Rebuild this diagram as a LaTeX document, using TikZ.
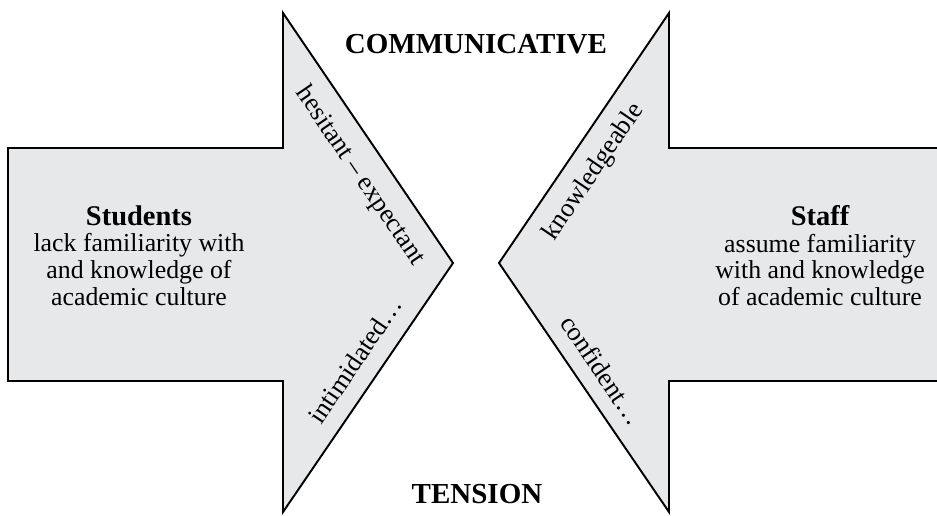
\documentclass[tikz,border=0pt]{standalone}
\usepackage{fontspec}
\setmainfont{Liberation Serif}
\usepackage{tkz-euclide}
\definecolor{arrowgray}{RGB}{231,232,234}
\tikzset{
  bigarrow/.style={draw=black,line width=1.1pt,fill=arrowgray,line join=miter},
  edgetext/.style={font=\fontsize{15}{17}\selectfont,inner sep=1pt},
  bodytext/.style={align=center,font=\fontsize{14.7}{15.2}\selectfont,inner sep=0pt},
  poletext/.style={font=\fontsize{16.5}{18}\selectfont\bfseries,inner sep=0pt}
}

\begin{document}
\begin{tikzpicture}
\tkzInit[xmin=0,xmax=18.74,ymin=0,ymax=10.3]
\tkzClip
% left arrow (students)
\tkzDefPoints{0.16/7.34/L1,5.66/7.34/L2,5.66/10.04/L3,9.06/5.04/L4,5.66/0.06/L5,5.66/2.68/L6,0.16/2.68/L7}
% right arrow (staff)
\tkzDefPoints{19.2/7.34/R1,13.38/7.34/R2,13.38/10.04/R3,9.98/5.04/R4,13.38/0.06/R5,13.38/2.68/R6,19.2/2.68/R7}
\draw[bigarrow](L1)--(L2)--(L3)--(L4)--(L5)--(L6)--(L7)--cycle;
\draw[bigarrow](R1)--(R2)--(R3)--(R4)--(R5)--(R6)--(R7)--cycle;
\node[bodytext] (stud) at (2.78,5.19)
  {{\fontsize{16.2}{17}\selectfont\bfseries Students}\\lack familiarity with\\and knowledge of\\academic culture};
\node[bodytext] (staff) at (16.4,5.19)
  {{\fontsize{16.2}{17}\selectfont\bfseries Staff}\\assume familiarity\\with and knowledge\\of academic culture};
\node[edgetext,rotate=-55.8] (hes) at (7.2,6.78) {hesitant -- expectant};
\node[edgetext,rotate=55.8] (intim) at (7.1,3.1) {intimidated…};
\node[edgetext,rotate=55.8] (know) at (11.88,6.86) {knowledgeable};
\node[edgetext,rotate=-55.8] (conf) at (12.04,2.9) {confident…};
\node[poletext] (comm) at (9.52,9.42) {COMMUNICATIVE};
\node[poletext] (tens) at (9.54,0.42) {TENSION};
\end{tikzpicture}
\end{document}
